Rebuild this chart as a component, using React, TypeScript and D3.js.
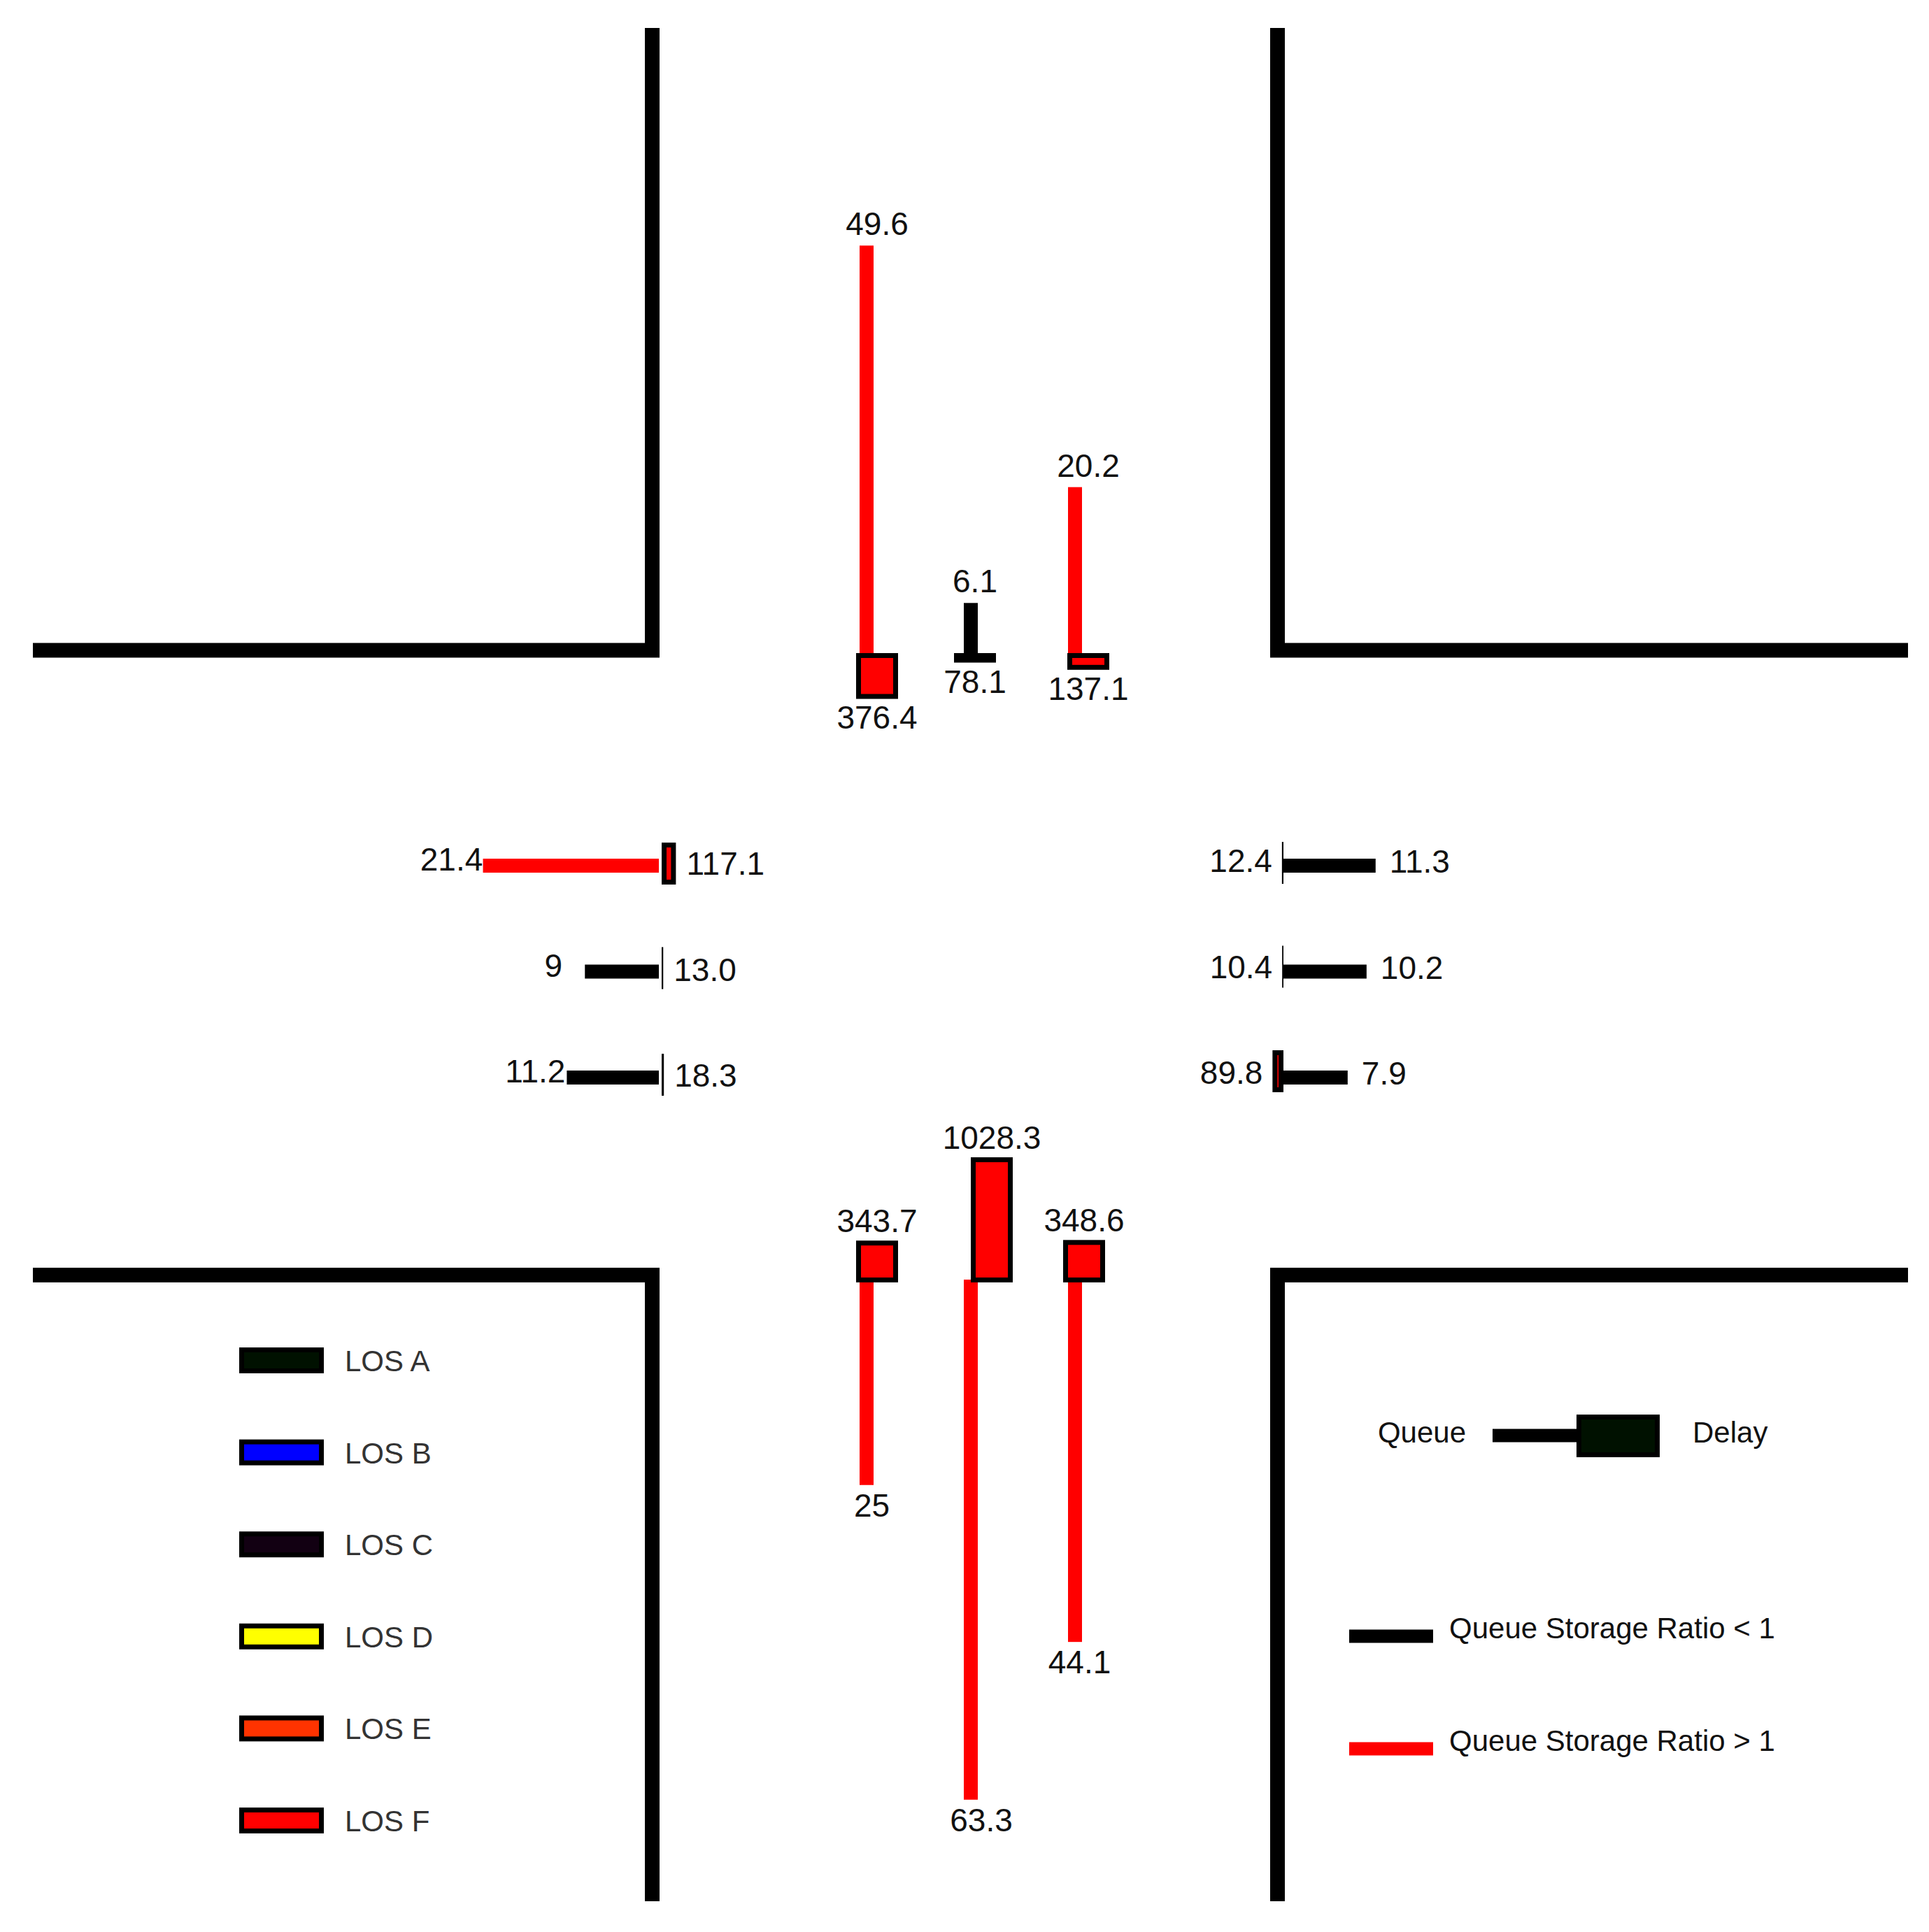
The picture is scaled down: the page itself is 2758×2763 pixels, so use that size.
import * as d3 from "d3";

// Lane results, lanes listed west→east (SB / NB) or north→south (EB / WB)
const sbQueue = [49.6, 6.1, 20.2];
const sbDelay = [376.4, 78.1, 137.1];
const sbOverStorage = [true, false, true];

const nbQueue = [25, 63.3, 44.1];
const nbDelay = [343.7, 1028.3, 348.6];
const nbOverStorage = [true, true, true];

const ebQueue = [21.4, 9, 11.2];
const ebDelay = [117.1, 13.0, 18.3];
const ebOverStorage = [true, false, false];

const wbQueue = [11.3, 10.2, 7.9];
const wbDelay = [12.4, 10.4, 89.8];
const wbOverStorage = [false, false, false];

// LOS legend
const losLabels = ["LOS A", "LOS B", "LOS C", "LOS D", "LOS E", "LOS F"];
const losColors = ["#001100", "#0000ff", "#120012", "#ffff00", "#ff3300", "#ff0000"];
const losBreaks = [10, 20, 35, 55, 80];

const storageLabels = ["Queue Storage Ratio < 1", "Queue Storage Ratio > 1"];
const storageColors = ["#000000", "#ff0000"];

const W = 2758;
const H = 2763;
const FONT = "'Liberation Sans', Arial, Helvetica, sans-serif";

// scales: queue length and delay drawn to length along the approach
const queueLen = d3.scaleLinear().domain([0, 100]).range([0, 1175]);
const delayLen = d3.scaleLinear().domain([0, 1000]).range([0, 174]);
const losColor = d3.scaleThreshold<number, string>().domain(losBreaks).range(losColors);

// road edges (curb lines of the intersection)
const curb = { west: 932.5, east: 1826.5, north: 930, south: 1823.5 };
const roadExtent = { left: 47, right: 2728, top: 40, bottom: 2719 };

const LINE_W = 20;
const BOX_W = 60;
const BORDER = 7;

type Approach = {
  key: string;
  queue: number[];
  delay: number[];
  over: boolean[];
  vertical: boolean; // lanes laid out along x
  stop: number; // stop line position along travel axis
  queueDir: number; // direction queue grows
  boxStart: number;
  laneRange: [number, number];
  boxShift: number[]; // delay box offset from the lane centre
};

const approaches: Approach[] = [
  { key: "SB", queue: sbQueue, delay: sbDelay, over: sbOverStorage, vertical: true, stop: 934, queueDir: -1, boxStart: 934, laneRange: [1239, 1537], boxShift: [15, 6, 19] },
  { key: "NB", queue: nbQueue, delay: nbDelay, over: nbOverStorage, vertical: true, stop: 1830, queueDir: 1, boxStart: 1834, laneRange: [1239, 1537], boxShift: [15, 30, 13] },
  { key: "EB", queue: ebQueue, delay: ebDelay, over: ebOverStorage, vertical: false, stop: 942, queueDir: -1, boxStart: 946, laneRange: [1238, 1541], boxShift: [-3, -5, -4] },
  { key: "WB", queue: wbQueue, delay: wbDelay, over: wbOverStorage, vertical: false, stop: 1834, queueDir: 1, boxStart: 1835, laneRange: [1238, 1541], boxShift: [-4, -7, -9] },
];

// rectangle from along-axis span and across-axis span
function span(vertical: boolean, a0: number, a1: number, c0: number, c1: number) {
  const along = [Math.min(a0, a1), Math.abs(a1 - a0)];
  const across = [Math.min(c0, c1), Math.abs(c1 - c0)];
  return vertical
    ? { x: across[0], y: along[0], width: across[1], height: along[1] }
    : { x: along[0], y: across[0], width: along[1], height: across[1] };
}

function DelayBox({ r, fill }: { r: { x: number; y: number; width: number; height: number }; fill: string }) {
  const iw = r.width - 2 * BORDER;
  const ih = r.height - 2 * BORDER;
  return (
    <g>
      <rect {...r} fill="#000" />
      {iw > 0 && ih > 0 && <rect x={r.x + BORDER} y={r.y + BORDER} width={iw} height={ih} fill={fill} />}
    </g>
  );
}

function ApproachMarks({ ap }: { ap: Approach }) {
  const lanes = d3.scalePoint<number>().domain(d3.range(ap.queue.length)).range(ap.laneRange);
  const boxDir = -ap.queueDir;
  return (
    <g>
      {ap.queue.map((q, i) => {
        const c = lanes(i)!;
        const bc = c + ap.boxShift[i];
        const qEnd = ap.stop + ap.queueDir * queueLen(q);
        const bEnd = ap.boxStart + boxDir * delayLen(ap.delay[i]);
        const qRect = span(ap.vertical, ap.stop, qEnd, c - LINE_W / 2, c + LINE_W / 2);
        const bRect = span(ap.vertical, ap.boxStart, bEnd, bc - BOX_W / 2, bc + BOX_W / 2);
        const qText = String(q);
        const dText = ap.delay[i].toFixed(1);
        let qLab: any, dLab: any;
        if (ap.key === "SB") {
          qLab = { x: bc, y: qEnd - 15, anchor: "middle" };
          dLab = { x: bc, y: bEnd + 43, anchor: "middle" };
        } else if (ap.key === "NB") {
          qLab = { x: (c + bc) / 2, y: qEnd + 45, anchor: "middle" };
          dLab = { x: bc, y: bEnd - 12, anchor: "middle" };
        } else if (ap.key === "EB") {
          qLab = { x: qEnd - 45, y: c + 7, anchor: "middle" };
          dLab = { x: bEnd + 15, y: c + 13, anchor: "start" };
        } else {
          qLab = { x: qEnd + 20, y: c + 10, anchor: "start" };
          dLab = { x: bEnd - 14, y: c + 9, anchor: "end" };
        }
        return (
          <g key={i}>
            <rect {...qRect} fill={ap.over[i] ? "#ff0000" : "#000"} />
            <DelayBox r={bRect} fill={losColor(ap.delay[i])} />
            <text x={qLab.x} y={qLab.y} textAnchor={qLab.anchor} fontSize={46} fill="#111" fontFamily={FONT}>
              {qText}
            </text>
            <text x={dLab.x} y={dLab.y} textAnchor={dLab.anchor} fontSize={46} fill="#111" fontFamily={FONT}>
              {dText}
            </text>
          </g>
        );
      })}
    </g>
  );
}

export default function App() {
  const losY = d3.scalePoint<string>().domain(losLabels).range([1945, 2603]);
  const storageY = d3.scalePoint<string>().domain(storageLabels).range([2340, 2501]);
  const roads = [
    `M${roadExtent.left},${curb.north}H${curb.west}V${roadExtent.top}`,
    `M${curb.east},${roadExtent.top}V${curb.north}H${roadExtent.right}`,
    `M${roadExtent.left},${curb.south}H${curb.west}V${roadExtent.bottom}`,
    `M${curb.east},${roadExtent.bottom}V${curb.south}H${roadExtent.right}`,
  ];
  return (
    <svg
      width={W}
      height={H}
      viewBox={`0 0 ${W} ${H}`}
      style={{ position: "absolute", left: 0, top: 0, display: "block", background: "#fff" }}
    >
      <rect width={W} height={H} fill="#fff" />
      {/* curb lines */}
      {roads.map((d, i) => (
        <path key={i} d={d} fill="none" stroke="#000" strokeWidth={21} strokeLinejoin="miter" />
      ))}

      {approaches.map((ap) => (
        <ApproachMarks key={ap.key} ap={ap} />
      ))}

      {/* LOS legend */}
      {losLabels.map((l, i) => {
        const cy = losY(l)!;
        return (
          <g key={l}>
            <DelayBox r={{ x: 342, y: cy - 18, width: 121, height: 37 }} fill={losColors[i]} />
            <text x={493} y={cy + 16} fontSize={42} fill="#333" fontFamily={FONT}>
              {l}
            </text>
          </g>
        );
      })}

      {/* Queue / Delay symbol legend */}
      <g>
        <rect x={2134} y={2053 - 9.5} width={122} height={19} fill="#000" />
        <DelayBox r={{ x: 2254, y: 2023, width: 119, height: 61 }} fill={losColors[0]} />
        <text x={2096} y={2063} textAnchor="end" fontSize={42} fill="#111" fontFamily={FONT}>
          Queue
        </text>
        <text x={2420} y={2063} fontSize={42} fill="#111" fontFamily={FONT}>
          Delay
        </text>
      </g>

      {storageLabels.map((l, i) => {
        const cy = storageY(l)!;
        return (
          <g key={l}>
            <rect x={1929} y={cy - 9.5} width={120} height={19} fill={storageColors[i]} />
            <text x={2072} y={cy + 3} fontSize={42} fill="#111" fontFamily={FONT}>
              {l}
            </text>
          </g>
        );
      })}
    </svg>
  );
}
